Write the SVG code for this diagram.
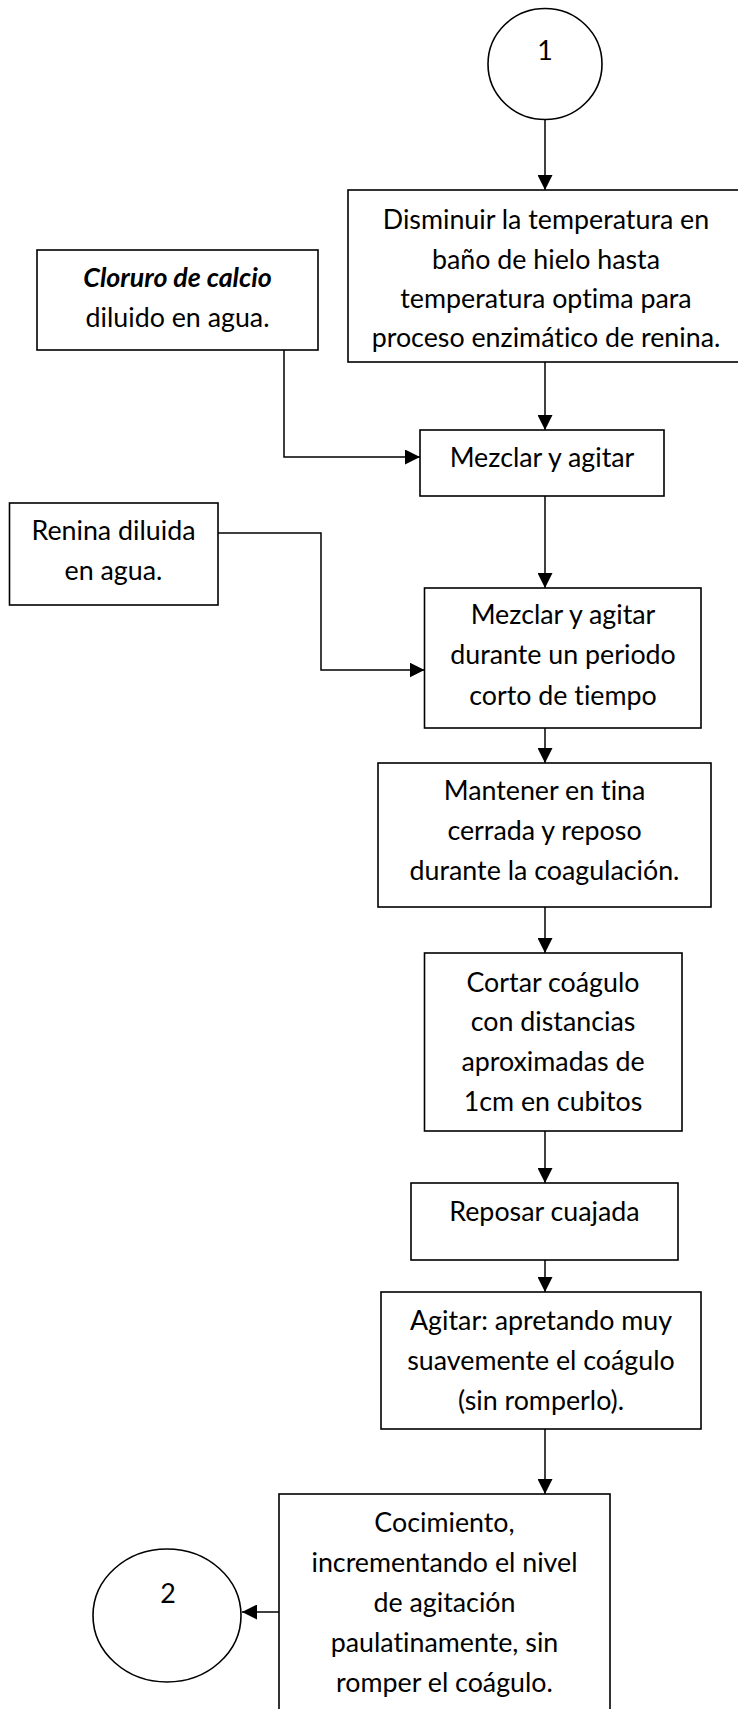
<svg xmlns="http://www.w3.org/2000/svg" width="738" height="1709" viewBox="0 0 738 1709">
<defs>
<marker id="arr" markerUnits="userSpaceOnUse" markerWidth="15" markerHeight="15" viewBox="0 0 14 14" refX="14" refY="7" orient="auto">
<path d="M0,0 L14,7 L0,14 Z" fill="#000"/>
</marker>
<style>
.box{fill:#fff;stroke:#000;stroke-width:1.6}
.t{font-family:Lato,"Liberation Sans",sans-serif;font-size:26.8px;fill:#000;text-anchor:middle;font-variant-ligatures:none;font-feature-settings:"liga" 0,"clig" 0}
.bi{font-weight:bold;font-style:italic}
.c{fill:none;stroke:#000;stroke-width:1.5;marker-end:url(#arr)}
</style>
</defs>
<rect width="738" height="1709" fill="#fff"/>
<g id="connectors">
<path class="c" d="M545,120 V190"/>
<path class="c" d="M545,362 V430"/>
<path class="c" d="M284,350 V457 H420"/>
<path class="c" d="M545,496 V588"/>
<path class="c" d="M218,533 H321 V670 H424.5"/>
<path class="c" d="M545,728 V763"/>
<path class="c" d="M545,907 V953"/>
<path class="c" d="M545,1131 V1183"/>
<path class="c" d="M545,1260 V1292"/>
<path class="c" d="M545,1429 V1494"/>
<path class="c" d="M279,1612 H242"/>
</g>
<g id="n-circle1">
<ellipse class="box" cx="545" cy="64" rx="57" ry="55.5"/>
<text class="t" x="545" y="60">1</text>
</g>
<g id="n-disminuir">
<rect class="box" x="348" y="190" width="400" height="172"/>
<text class="t"><tspan x="546" y="229">Disminuir la temperatura en</tspan><tspan x="546" y="269">baño de hielo hasta</tspan><tspan x="546" y="308">temperatura optima para</tspan><tspan x="546" y="347">proceso enzimático de renina.</tspan></text>
</g>
<g id="n-cloruro">
<rect class="box" x="37" y="250" width="281" height="100"/>
<text class="t"><tspan x="177.5" y="287" class="bi">Cloruro de calcio</tspan><tspan x="177.5" y="327">diluido en agua.</tspan></text>
</g>
<g id="n-mezclar1">
<rect class="box" x="420" y="430" width="244" height="66"/>
<text class="t" x="542" y="467">Mezclar y agitar</text>
</g>
<g id="n-renina">
<rect class="box" x="9.5" y="503" width="208.5" height="102"/>
<text class="t"><tspan x="113.5" y="540">Renina diluida</tspan><tspan x="113.5" y="580">en agua.</tspan></text>
</g>
<g id="n-mezclar2">
<rect class="box" x="424.5" y="588" width="276.5" height="140"/>
<text class="t"><tspan x="563" y="624">Mezclar y agitar</tspan><tspan x="563" y="664">durante un periodo</tspan><tspan x="563" y="705">corto de tiempo</tspan></text>
</g>
<g id="n-mantener">
<rect class="box" x="378" y="763" width="333" height="144"/>
<text class="t"><tspan x="544.5" y="800">Mantener en tina</tspan><tspan x="544.5" y="840">cerrada y reposo</tspan><tspan x="544.5" y="880">durante la coagulación.</tspan></text>
</g>
<g id="n-cortar">
<rect class="box" x="424.5" y="953" width="257.5" height="178"/>
<text class="t"><tspan x="553" y="992">Cortar coágulo</tspan><tspan x="553" y="1031">con distancias</tspan><tspan x="553" y="1071">aproximadas de</tspan><tspan x="553" y="1111">1cm en cubitos</tspan></text>
</g>
<g id="n-reposar">
<rect class="box" x="411" y="1183" width="267" height="77"/>
<text class="t" x="544.5" y="1221">Reposar cuajada</text>
</g>
<g id="n-agitar">
<rect class="box" x="381" y="1292" width="320" height="137"/>
<text class="t"><tspan x="541" y="1330">Agitar: apretando muy</tspan><tspan x="541" y="1370">suavemente el coágulo</tspan><tspan x="541" y="1410">(sin romperlo).</tspan></text>
</g>
<g id="n-cocimiento">
<rect class="box" x="279" y="1494" width="331" height="230"/>
<text class="t"><tspan x="444.5" y="1532">Cocimiento,</tspan><tspan x="444.5" y="1572">incrementando el nivel</tspan><tspan x="444.5" y="1612">de agitación</tspan><tspan x="444.5" y="1652">paulatinamente, sin</tspan><tspan x="444.5" y="1692">romper el coágulo.</tspan></text>
</g>
<g id="n-circle2">
<ellipse class="box" cx="167" cy="1615.5" rx="74" ry="66.5"/>
<text class="t" x="168" y="1603">2</text>
</g>
</svg>
